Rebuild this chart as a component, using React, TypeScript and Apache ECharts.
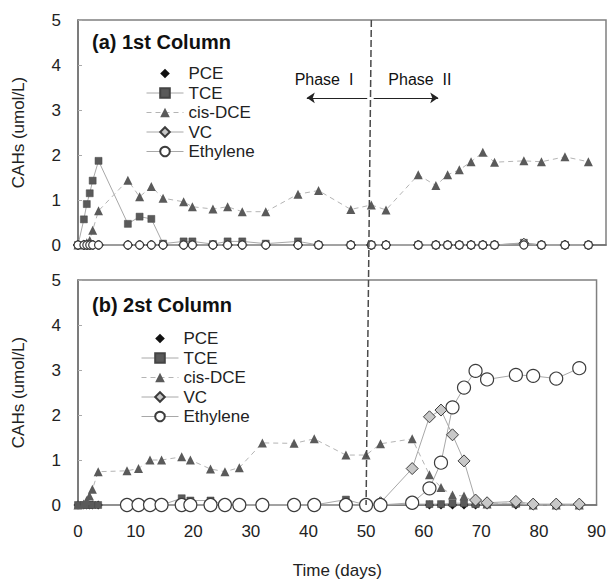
import React, { useEffect, useRef } from "react";
import * as echarts from "echarts";

// Sampling days (common to both columns)
const days = [0, 1, 1.5, 2, 2.5, 3.5, 8.5, 10.5, 12.5, 14.5, 18, 19.5, 23, 25.5, 28, 32, 37.5, 41, 46.5, 50, 52.5, 58, 61, 63, 65, 67, 69, 71, 76, 79, 83, 87];

const seriesNames = ["PCE", "TCE", "cis-DCE", "VC", "Ethylene"];

// (a) 1st Column
const col1PCE = [0, 0, 0, 0, 0, 0, 0, 0, 0, 0, 0, 0, 0, 0, 0, 0, 0, 0, 0, 0, 0, 0, 0, 0, 0, 0, 0, 0, 0, 0, 0, 0];
const col1TCE = [0, 0.57, 0.91, 1.15, 1.43, 1.87, 0.47, 0.63, 0.58, 0.03, 0.08, 0.08, 0.02, 0.08, 0.08, 0.03, 0.08, 0, 0, 0, 0, 0, 0, 0, 0, 0, 0, 0, 0.05, 0, 0, 0];
const col1DCE = [0, 0.02, 0.05, 0.1, 0.33, 0.76, 1.44, 1.07, 1.3, 1.04, 0.96, 0.85, 0.8, 0.85, 0.74, 0.74, 1.13, 1.21, 0.79, 0.89, 0.78, 1.56, 1.32, 1.56, 1.67, 1.85, 2.06, 1.84, 1.87, 1.85, 1.96, 1.85];
const col1VC = [0, 0, 0, 0, 0, 0, 0, 0, 0, 0, 0, 0, 0, 0, 0, 0, 0, 0, 0, 0, 0, 0, 0, 0, 0, 0, 0, 0, 0.04, 0, 0, 0];
const col1ETH = [0, 0, 0, 0, 0, 0, 0, 0, 0, 0, 0, 0, 0, 0, 0, 0, 0, 0, 0, 0, 0, 0, 0, 0, 0, 0, 0, 0, 0, 0, 0, 0];

// (b) 2st Column
const col2PCE = [0, 0, 0, 0, 0, 0, 0, 0, 0, 0, 0, 0, 0, 0, 0, 0, 0, 0, 0, 0, 0, 0, 0, 0, 0, 0, 0, 0, 0, 0, 0, 0];
const col2TCE = [0, 0, 0, 0, 0, 0, 0, 0, 0, 0, 0.15, 0.1, 0.1, 0, 0, 0, 0, 0, 0.12, 0, 0, 0.02, 0.02, 0.02, 0.04, 0.04, 0.02, 0.02, 0.03, 0, 0, 0];
const col2DCE = [0, 0.02, 0.1, 0.2, 0.35, 0.74, 0.76, 0.81, 1.0, 1.0, 1.07, 1.0, 0.8, 0.74, 0.83, 1.38, 1.37, 1.47, 1.11, 1.11, 1.36, 1.47, 0.67, 0.39, 0.22, 0.2, 0.05, 0.02, 0.05, 0, 0, 0];
const col2VC = [null, null, null, null, null, null, 0, 0, 0, 0, 0, 0, 0, 0, 0, 0, 0, 0, 0, 0, 0.05, 0.81, 1.96, 2.11, 1.56, 0.98, 0.11, 0.05, 0.08, 0.02, 0.02, 0.02];
const col2ETH = [null, null, null, null, null, null, 0, 0, 0, 0, 0, 0, 0, 0, 0, 0, 0, 0, 0, 0, 0, 0.05, 0.37, 0.94, 2.17, 2.61, 2.98, 2.79, 2.89, 2.87, 2.81, 3.04];

const panelTitles = ["(a) 1st Column", "(b) 2st Column"];
const xTicks = { min: 0, max: 90, interval: 10 };
const yTicks = { min: 0, max: 5, interval: 1 };
const phaseBoundaryDay = 50;
const phaseArrowLevel = 3.27;
const phaseIArrow = [49.3, 39.0];
const phaseIIArrow = [50.4, 61.4];

const FONT = "Liberation Sans, Arial, Helvetica, sans-serif";

function pairs(vals: (number | null)[]) {
  return days
    .map((d, i) => [d, vals[i]])
    .filter((p) => p[1] !== null);
}

function styleFor(name: string, panel: number) {
  const grayLine = "#a8a8a8";
  switch (name) {
    case "PCE":
      return {
        symbol: "diamond",
        symbolSize: 9,
        itemStyle: { color: "#111" },
        lineStyle: { width: 0, color: "#111" },
      };
    case "TCE":
      return {
        symbol: "rect",
        symbolSize: 7,
        itemStyle: { color: "#5a5a5a", borderColor: "#444", borderWidth: 0.5 },
        lineStyle: { width: 1, color: grayLine },
      };
    case "cis-DCE":
      return {
        symbol: "triangle",
        symbolSize: 9,
        itemStyle: { color: "#5a5a5a" },
        lineStyle: { width: 1, color: "#b4b4b4", type: [5, 4] },
      };
    case "VC":
      return {
        symbol: "diamond",
        symbolSize: panel === 0 ? 10 : 12,
        itemStyle: { color: "#c8c8c8", borderColor: "#3c3c3c", borderWidth: 1 },
        lineStyle: { width: 1, color: grayLine },
      };
    default:
      return {
        symbol: "circle",
        symbolSize: panel === 0 ? 8 : 13,
        itemStyle: { color: "#ffffff", borderColor: "#3c3c3c", borderWidth: 1.2 },
        lineStyle: { width: 1, color: grayLine },
      };
  }
}

export default function App() {
  const ref = useRef<HTMLDivElement>(null);

  useEffect(() => {
    if (!ref.current) return;
    const chart = echarts.init(ref.current, undefined, { renderer: "svg" });

    const panels = [
      [col1PCE, col1TCE, col1DCE, col1VC, col1ETH],
      [col2PCE, col2TCE, col2DCE, col2VC, col2ETH],
    ];

    const series: any[] = [];
    panels.forEach((vals, p) => {
      seriesNames.forEach((name, k) => {
        const s: any = {
          type: "line",
          name,
          xAxisIndex: p,
          yAxisIndex: p,
          data: pairs(vals[k]),
          showSymbol: true,
          clip: false,
          ...styleFor(name, p),
        };
        if (p === 0 && k === 0) {
          s.markLine = {
            silent: true,
            symbol: ["none", "arrow"],
            symbolSize: [8, 8],
            label: { show: false },
            lineStyle: { color: "#222", width: 1, type: "solid" },
            data: [
              [{ coord: [phaseIArrow[0], phaseArrowLevel] }, { coord: [phaseIArrow[1], phaseArrowLevel] }],
              [{ coord: [phaseIIArrow[0], phaseArrowLevel] }, { coord: [phaseIIArrow[1], phaseArrowLevel] }],
            ],
          };
        }
        series.push(s);
      });
    });

    const axisLine = { show: true, lineStyle: { color: "#707070", width: 1.5 } };

    const legendData = seriesNames.map((n) =>
      n === "PCE" ? { name: n, lineStyle: { width: 0, opacity: 0 } } : { name: n }
    );

    const option: any = {
      animation: false,
      textStyle: { fontFamily: FONT },
      title: panelTitles.map((t, i) => ({
        text: t,
        left: 87,
        top: i === 0 ? 27 : 290,
        textStyle: { fontSize: 20, fontWeight: "bold", color: "#111", fontFamily: FONT },
      })),
      legend: [0, 1].map((i) => ({
        data: legendData,
        orient: "vertical",
        left: i === 0 ? 141 : 136,
        top: i === 0 ? 60 : 325,
        itemWidth: 37,
        itemHeight: 12,
        itemGap: 2.5,
        selectedMode: false,
        lineStyle: { width: 1 },
        textStyle: { fontSize: 17, color: "#222", fontFamily: FONT },
      })),
      grid: [
        { left: 78, top: 20, width: 528, height: 225, show: true, borderColor: "#808080", borderWidth: 1.5 },
        { left: 78, top: 280, width: 528, height: 225, show: true, borderColor: "#808080", borderWidth: 1.5 },
      ],
      xAxis: [0, 1].map((i) => ({
        type: "value",
        gridIndex: i,
        min: xTicks.min,
        max: xTicks.max,
        interval: xTicks.interval,
        axisLine,
        axisTick: { show: false },
        splitLine: { show: false },
        axisLabel: {
          show: i === 1,
          fontSize: 17,
          color: "#222",
          margin: 18,
          fontFamily: FONT,
        },
        name: i === 1 ? "Time (days)" : "",
        nameLocation: "middle",
        nameGap: 57,
        nameTextStyle: { fontSize: 17, color: "#222", fontFamily: FONT },
      })),
      yAxis: [0, 1].map((i) => ({
        type: "value",
        gridIndex: i,
        min: yTicks.min,
        max: yTicks.max,
        interval: yTicks.interval,
        axisLine,
        axisTick: { show: true, inside: true, length: 4, lineStyle: { color: "#aaa" } },
        splitLine: { show: false },
        axisLabel: { fontSize: 17, color: "#222", margin: 17, fontFamily: FONT },
        name: "CAHs (umol/L)",
        nameLocation: "middle",
        nameGap: 51,
        nameTextStyle: { fontSize: 17, color: "#222", fontFamily: FONT },
      })),
      series,
    };

    chart.setOption(option);

    const top = chart.convertToPixel({ gridIndex: 0 }, [phaseBoundaryDay, yTicks.max]) as number[];
    const bot = chart.convertToPixel({ gridIndex: 1 }, [phaseBoundaryDay, yTicks.min]) as number[];
    const arrowY = (chart.convertToPixel({ gridIndex: 0 }, [0, phaseArrowLevel]) as number[])[1];

    chart.setOption({
      graphic: [
        {
          type: "line",
          silent: true,
          z: 10,
          shape: { x1: top[0], y1: top[1], x2: bot[0], y2: bot[1] },
          style: { stroke: "#4a4a4a", lineWidth: 1.5, lineDash: [7, 3] },
        },
        {
          type: "text",
          silent: true,
          style: {
            text: "Phase  I",
            x: top[0] - 18,
            y: arrowY - 18,
            align: "right",
            verticalAlign: "middle",
            font: `16px ${FONT}`,
            fill: "#111",
          },
        },
        {
          type: "text",
          silent: true,
          style: {
            text: "Phase  II",
            x: top[0] + 17,
            y: arrowY - 18,
            align: "left",
            verticalAlign: "middle",
            font: `16px ${FONT}`,
            fill: "#111",
          },
        },
      ],
    });

    return () => chart.dispose();
  }, []);

  return (
    <div
      ref={ref}
      style={{ position: "fixed", left: 0, top: 0, width: 609, height: 580, background: "#fff" }}
    />
  );
}
